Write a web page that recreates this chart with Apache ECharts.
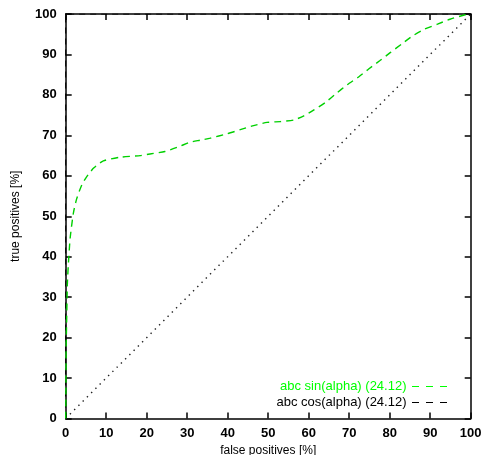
<!DOCTYPE html>
<html>
<head>
<meta charset="utf-8">
<script src="https://cdn.jsdelivr.net/npm/echarts@6/dist/echarts.min.js"></script>
<style>html,body{margin:0;padding:0;background:#fff}#c{width:482px;height:455px}</style>
</head>
<body>
<div id="c"></div>
<script>
// tick labels
var xTicks = [0,10,20,30,40,50,60,70,80,90,100];
var yTicks = [0,10,20,30,40,50,60,70,80,90,100];
// series names
var sinName = 'abc sin(alpha) (24.12)';
var cosName = 'abc cos(alpha) (24.12)';
// ROC curve values: [false positives %, true positives %]
var sinFP = [0,0.05,0.1,0.25,0.4,0.65,1.1,1.9,2.7,4.0,5.2,6.9,9.3,13.5,18.4,20.8,24.5,28.2,30.7,33.2,35.7,39.9,43.1,46.4,49.7,53,56.3,58.8,61.3,64.2,66.6,69.5,72.4,74.8,77.6,80.2,83,85.7,88.5,91.8,94.9,98.2,100];
var sinTP = [0,5,17,25,33,38,44.6,50.8,54.3,57.8,59.8,61.9,63.7,64.6,65.0,65.4,66.0,67.3,68.3,68.8,69.3,70.4,71.4,72.4,73.2,73.4,73.8,74.8,76.3,78.2,80.2,82.5,84.5,86.4,88.5,90.5,92.6,94.6,96.2,97.5,98.7,99.7,100];
var cosFP = [0,0,100];
var cosTP = [0,100,100];
// random-guess diagonal
var diagFP = [0,100];
var diagTP = [0,100];

function pairs(a,b){return a.map(function(v,i){return [v,b[i]];});}

var chart = echarts.init(document.getElementById('c'), null, {renderer:'canvas'});
var font = 'Liberation Sans, Arial, Helvetica, sans-serif';
var tickCommon = {show:true, inside:true, length:6, lineStyle:{color:'#000', width:1.5}};
var labelStyle = {color:'#000', fontSize:13, fontWeight:'bold', fontFamily:font};
var sinColor = '#00d000';
chart.setOption({
  animation:false,
  backgroundColor:'#fff',
  grid:{left:65.7, right:11.3, top:14, bottom:36.5, containLabel:false, outerBoundsMode:'none'},
  xAxis:[{
    type:'value', min:0, max:100, interval:10, position:'bottom',
    name:'false positives [%]', nameLocation:'middle', nameGap:24,
    nameTextStyle:{color:'#000', fontSize:12, fontFamily:font},
    axisLine:{show:true, onZero:false, lineStyle:{color:'#000', width:1.5}},
    axisTick:tickCommon,
    axisLabel:Object.assign({margin:8, formatter:function(v){return xTicks.indexOf(v)>=0? String(v):'';}}, labelStyle),
    splitLine:{show:false}
  },{
    type:'value', min:0, max:100, interval:10, position:'top',
    axisLine:{show:true, onZero:false, lineStyle:{color:'#000', width:1.5}},
    axisTick:tickCommon, axisLabel:{show:false}, splitLine:{show:false}
  }],
  yAxis:[{
    type:'value', min:0, max:100, interval:10, position:'left',
    name:'true positives [%]', nameLocation:'middle', nameGap:44, nameRotate:90,
    nameTextStyle:{color:'#000', fontSize:12, fontFamily:font},
    axisLine:{show:true, onZero:false, lineStyle:{color:'#000', width:1.5}},
    axisTick:tickCommon,
    axisLabel:Object.assign({margin:9, formatter:function(v){return yTicks.indexOf(v)>=0? String(v):'';}}, labelStyle),
    splitLine:{show:false}
  },{
    type:'value', min:0, max:100, interval:10, position:'right',
    axisLine:{show:true, onZero:false, lineStyle:{color:'#000', width:1.5}},
    axisTick:tickCommon, axisLabel:{show:false}, splitLine:{show:false}
  }],
  graphic:[
    {type:'text', right:482-406.5, top:379.5, style:{text:sinName, fill:'#00ff00', font:'13px ' + font}},
    {type:'line', shape:{x1:412, y1:386.5, x2:454, y2:386.5}, style:{stroke:'#00ff00', lineWidth:1, lineDash:[7,7]}},
    {type:'text', right:482-406.5, top:395.5, style:{text:cosName, fill:'#000', font:'13px ' + font}},
    {type:'line', shape:{x1:412, y1:402.5, x2:454, y2:402.5}, style:{stroke:'#000', lineWidth:1, lineDash:[7,7]}}
  ],
  series:[
    {name:'diag', type:'line', data:pairs(diagFP,diagTP), showSymbol:false, symbol:'none', silent:true,
     lineStyle:{color:'#222', width:1.4, type:[1.4,4.6]}, z:1},
    {name:cosName, type:'line', data:pairs(cosFP,cosTP), symbol:'none', showSymbol:false,
     lineStyle:{color:'#000', width:1, type:[6,5]}, itemStyle:{color:'#000'}, z:1},
    {name:sinName, type:'line', data:pairs(sinFP,sinTP), symbol:'none', showSymbol:false, smooth:0.2,
     lineStyle:{color:sinColor, width:1.4, type:[7,5]}, itemStyle:{color:sinColor}, z:3}
  ]
});
</script>
</body>
</html>
